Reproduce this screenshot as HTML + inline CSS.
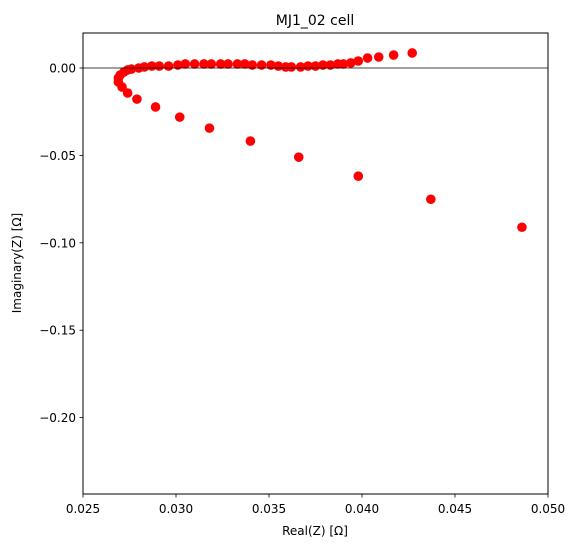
<!DOCTYPE html>
<html><head><meta charset="utf-8"><style>
body{margin:0;background:#fff;}
svg text{font-family:"DejaVu Sans","Liberation Sans",sans-serif;fill:#000;}
</style></head><body>
<svg id="chart" width="576" height="547">
<rect width="576" height="547" fill="#fff"/>
<text x="315" y="25" font-size="14" text-anchor="middle">MJ1_02 cell</text>
<g id="ticks"></g>
<g id="marks"></g>
<line x1="83" y1="68" x2="548" y2="68" stroke="#000" stroke-width="0.8"/>
<rect x="83" y="33" width="465" height="461" fill="none" stroke="#000" stroke-width="1"/>
<text x="315" y="535" font-size="12" text-anchor="middle">Real(Z) [Ω]</text>
<text x="21" y="263" font-size="12" text-anchor="middle" transform="rotate(-90 21 263)">Imaginary(Z) [Ω]</text>
</svg>
<script>
const realZ=[0.0486,0.0437,0.0398,0.0366,0.0340,0.0318,0.0302,0.0289,0.0279,0.0274,0.0271,0.0269,0.0269,0.0270,0.0272,0.0274,0.0276,0.0280,0.0283,0.0287,0.0291,0.0296,0.0301,0.0305,0.0310,0.0315,0.0319,0.0324,0.0328,0.0333,0.0337,0.0341,0.0346,0.0351,0.0355,0.0359,0.0362,0.0367,0.0371,0.0375,0.0379,0.0383,0.0387,0.0390,0.0394,0.0398,0.0403,0.0409,0.0417,0.0427];
const imagZ=[-0.0911,-0.0751,-0.0619,-0.0510,-0.0418,-0.0344,-0.0281,-0.0223,-0.0178,-0.0143,-0.0109,-0.0080,-0.0057,-0.0040,-0.0023,-0.0011,-0.0006,0.0000,0.0006,0.0011,0.0011,0.0011,0.0017,0.0023,0.0023,0.0023,0.0023,0.0023,0.0023,0.0023,0.0023,0.0017,0.0017,0.0017,0.0011,0.0006,0.0006,0.0006,0.0011,0.0011,0.0017,0.0017,0.0023,0.0023,0.0029,0.0040,0.0057,0.0063,0.0074,0.0086];
const xTicks=[0.025,0.030,0.035,0.040,0.045,0.050];
const xTickLabels=["0.025","0.030","0.035","0.040","0.045","0.050"];
const yTicks=[0,-0.05,-0.10,-0.15,-0.20];
const yTickLabels=["0.00","−0.05","−0.10","−0.15","−0.20"];
const NS="http://www.w3.org/2000/svg";
function sx(v){return 83+(v-0.025)/0.025*465;}
function sy(v){return 68-v/0.05*87.4;}
const tg=document.getElementById('ticks');
function mk(tag,attrs){const e=document.createElementNS(NS,tag);for(const k in attrs)e.setAttribute(k,attrs[k]);return e;}
xTicks.forEach((t,i)=>{
 const l=mk('line',{x1:sx(t),x2:sx(t),y1:494,y2:497.5,stroke:'#000','stroke-width':0.8});
 
 
 tg.appendChild(l);
 const tx=mk('text',{x:sx(t),y:513,'font-size':12,'text-anchor':'middle'});
 tx.textContent=xTickLabels[i];
 
 
 tg.appendChild(tx);
});
yTicks.forEach((t,i)=>{
 const l=mk('line',{x1:79.5,x2:83,y1:sy(t),y2:sy(t),stroke:'#000','stroke-width':0.8});
 
 
 tg.appendChild(l);
 const tx=mk('text',{x:76,y:sy(t)+4.5,'font-size':12,'text-anchor':'end'});
 tx.textContent=yTickLabels[i];
 
 
 tg.appendChild(tx);
});
const mg=document.getElementById('marks');
realZ.forEach((r,i)=>{
 const c=mk('circle',{cx:sx(r),cy:sy(imagZ[i]),r:4.8,fill:'#ff0000'});
 
 
 mg.appendChild(c);
});
</script>
</body></html>
